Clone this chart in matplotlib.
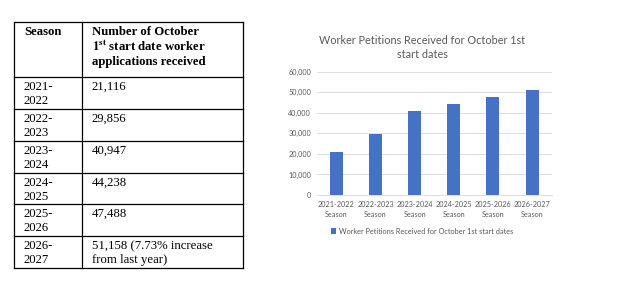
import matplotlib.pyplot as plt
from matplotlib.lines import Line2D

seasons = ["2021-2022", "2022-2023", "2023-2024", "2024-2025", "2025-2026", "2026-2027"]
petitions = [21116, 29856, 40947, 44238, 47488, 51158]
table_counts = ["21,116", "29,856", "40,947", "44,238", "47,488",
                "51,158 (7.73% increase\nfrom last year)"]
yticks = [0, 10000, 20000, 30000, 40000, 50000, 60000]

plt.rcParams['mathtext.fontset'] = 'stix'
fig = plt.figure(figsize=(6.2, 2.87), dpi=100)
fig.patch.set_facecolor('white')

# table drawn on a full-figure overlay in pixel units
tab = fig.add_axes([0, 0, 1, 1])
tab.set_xlim(0, 620)
tab.set_ylim(287, 0)
tab.axis('off')

left, mid, right = 14, 82, 243
row_lines = [22, 77, 109, 141, 173, 204, 236, 268]
for y in row_lines:
    tab.add_line(Line2D([left, right], [y, y], color='black', lw=0.9))
for x in (left, mid, right):
    tab.add_line(Line2D([x, x], [row_lines[0], row_lines[-1]], color='black', lw=0.9))

serif = 'Liberation Serif'
fs = 9.2
tab.text(24, 26, "Season", fontsize=fs, fontweight='bold', family=serif, va='top')
tab.text(92, 26, "Number of October", fontsize=fs, fontweight='bold', family=serif, va='top')
tab.text(92, 40, r"$\mathbf{1^{st}}$ start date worker", fontsize=fs, fontweight='bold',
         family=serif, va='top')
tab.text(92, 56, "applications received", fontsize=fs, fontweight='bold', family=serif, va='top')

for i, (s, c) in enumerate(zip(seasons, table_counts)):
    y0 = row_lines[i + 1] + 4
    a, b = s.split('-')
    tab.text(24, y0, a + "-\n" + b, fontsize=fs, family=serif, va='top', linespacing=1.25)
    tab.text(92, y0, c, fontsize=fs, family=serif, va='top', linespacing=1.25)

# bar chart
sans = 'Lato'
ax = fig.add_axes([316.7 / 620, 1 - 195 / 287, 235 / 620, 123.3 / 287])
ax.bar(range(len(seasons)), petitions, width=0.33, color='#4472C4',
       label="Worker Petitions Received for October 1st start dates", zorder=3)
ax.set_xlim(-0.5, len(seasons) - 0.5)
ax.set_ylim(0, 60000)
ax.set_yticks(yticks)
ax.set_yticklabels([f"{v:,}" for v in yticks], family=sans)
ax.set_xticks(range(len(seasons)))
ax.set_xticklabels([s + "\nSeason" for s in seasons], family=sans, linespacing=1.5)
ax.grid(axis='y', color='#D9D9D9', lw=0.6, zorder=0)
for sp in ('top', 'right', 'left'):
    ax.spines[sp].set_visible(False)
ax.spines['bottom'].set_color('#D9D9D9')
ax.spines['bottom'].set_linewidth(0.6)
ax.tick_params(length=0, labelsize=5.2, colors='#595959', pad=4)
ax.set_title("Worker Petitions Received for October 1st\nstart dates", family=sans,
             fontsize=7.8, color='#595959', pad=10, linespacing=1.3, x=0.45)
ax.legend(loc='upper center', bbox_to_anchor=(0.45, -0.21), frameon=False,
          prop={'family': sans, 'size': 5.3}, labelcolor='#595959',
          handlelength=0.7, handleheight=0.7, handletextpad=0.4)

fig.savefig('out.png', dpi=100)
